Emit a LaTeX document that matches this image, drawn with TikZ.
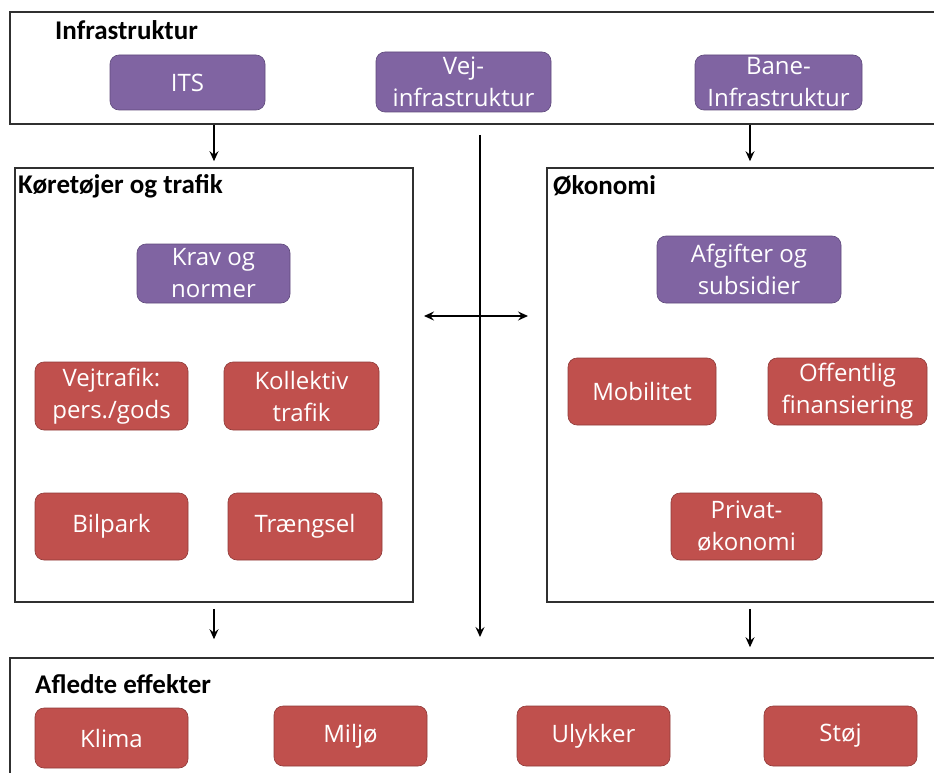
\documentclass[tikz,border=0pt]{standalone}
\usepackage{fontspec}
\setmainfont{Carlito}
\newfontfamily\boxfont{Open Sans}
\usetikzlibrary{arrows.meta,calc}
\definecolor{lilla}{HTML}{8064A2}
\definecolor{lillarand}{HTML}{5F4A7B}
\definecolor{roed}{HTML}{C0504D}
\definecolor{roedrand}{HTML}{8E3A38}
\definecolor{ramme}{HTML}{303030}

\begin{document}
\begin{tikzpicture}[x=1pt,y=-1pt,
	frame/.style={draw=ramme, line width=1.6pt, rectangle, inner sep=0pt},
	title/.style={anchor=west, inner sep=0pt, font=\fontsize{27}{32}\selectfont\bfseries},
	boks/.style={rectangle, rounded corners=9pt, line width=0.6pt, inner sep=0pt, align=center, text=white, font=\boxfont\fontsize{24}{32}\selectfont},
	pboks/.style={boks, fill=lilla, draw=lillarand},
	rboks/.style={boks, fill=roed, draw=roedrand},
	arr/.style={line width=1.3pt, -{Stealth[length=10pt,width=9pt,inset=3.5pt]}},
	arrr/.style={line width=1.3pt, {Stealth[length=10pt,width=9pt,inset=3.5pt]}-{Stealth[length=10pt,width=9pt,inset=3.5pt]}}]
\useasboundingbox (0,0) rectangle (934,773);
\clip (0,0) rectangle (934,773);

% rammer
\node[frame, minimum width=934pt, minimum height=112pt](infra) at (477,68){};
\node[frame, minimum width=398pt, minimum height=434pt](kor) at (214,385){};
\node[frame, minimum width=397pt, minimum height=434pt](oko) at (745.5,385){};
\node[frame, minimum width=934pt, minimum height=132pt](afl) at (477,724){};

\node[title](tinfra) at (55,30){Infrastruktur};
\node[title](tkor) at (18,186){Køretøjer og trafik};
\node[title](toko) at (553,186){Økonomi};
\node[title](tafl) at (35,684){Afledte effekter};

% infrastruktur
\node[pboks, minimum width=155pt, minimum height=55pt](its) at (187.5,82.5){ITS};
\node[pboks, minimum width=175pt, minimum height=60pt](vej) at (463.5,82){Vej-\\infrastruktur};
\node[pboks, minimum width=167pt, minimum height=55pt](bane) at (778.5,82.5){Bane-\\Infrastruktur};

% koeretoejer og trafik
\node[pboks, minimum width=153pt, minimum height=59pt](krav) at (213.5,273.5){Krav og\\normer};
\node[rboks, minimum width=153pt, minimum height=68pt](vejtr) at (111.5,396){Vejtrafik:\\pers./gods};
\node[rboks, minimum width=155pt, minimum height=68pt](koll) at (301.5,396){Kollektiv\\trafik};
\node[rboks, minimum width=153pt, minimum height=67pt](bil) at (111.5,526.5){Bilpark};
\node[rboks, minimum width=154pt, minimum height=67pt](traeng) at (305,526.5){Trængsel};

% oekonomi
\node[pboks, minimum width=184pt, minimum height=67pt](afg) at (749,269.5){Afgifter og\\subsidier};
\node[rboks, minimum width=148pt, minimum height=67pt](mob) at (642,391.5){Mobilitet};
\node[rboks, minimum width=159pt, minimum height=67pt](off) at (847.5,391.5){Offentlig\\finansiering};
\node[rboks, minimum width=151pt, minimum height=67pt](priv) at (746.5,526.5){Privat-\\økonomi};

% afledte effekter
\node[rboks, minimum width=153pt, minimum height=60pt](klima) at (111.5,738){Klima};
\node[rboks, minimum width=153pt, minimum height=60pt](milj) at (350.5,736){Miljø};
\node[rboks, minimum width=153pt, minimum height=60pt](ulyk) at (593.5,736){Ulykker};
\node[rboks, minimum width=153pt, minimum height=60pt](stoj) at (840.5,736){Støj};

% pile
\coordinate (vtop) at (480,135);
\coordinate (vbot) at (480,637);
\coordinate (hl) at (424,316);
\coordinate (hr) at (528,316);
\draw[arr](infra.south -| kor)to([yshift=6pt]kor.north);
\draw[arr](infra.south -| 750,0)to([yshift=6pt]oko.north -| 750,0);
\draw[arr](vtop)to(vbot);
\draw[arrr](hl)to(hr);
\draw[arr]([yshift=-6pt]kor.south)to([yshift=18pt]afl.north -| kor);
\draw[arr]([yshift=-6pt]oko.south -| 750,0)to([yshift=10pt]afl.north -| 750,0);
\end{tikzpicture}
\end{document}
